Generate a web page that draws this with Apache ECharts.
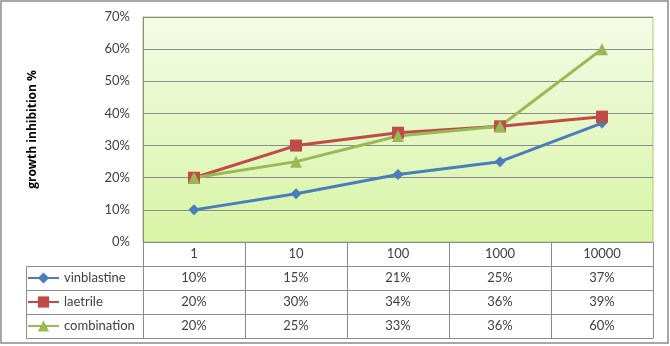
<!DOCTYPE html>
<html><head><meta charset="utf-8">
<script src="https://cdn.jsdelivr.net/npm/echarts@6/dist/echarts.min.js"></script>
<style>html,body{margin:0;padding:0;background:#fff}#c{width:670px;height:346px}</style>
</head><body><div id="c"></div>
<script>
const categories = ['1', '10', '100', '1000', '10000'];
const vinblastine = [0.10, 0.15, 0.21, 0.25, 0.37];
const laetrile = [0.20, 0.30, 0.34, 0.36, 0.39];
const combination = [0.20, 0.25, 0.33, 0.36, 0.60];
const seriesNames = ['vinblastine', 'laetrile', 'combination'];
const yTicks = [0, 0.1, 0.2, 0.3, 0.4, 0.5, 0.6, 0.7];

const pct = v => Math.round(v * 100) + '%';
const font = 'Lato, "Open Sans", sans-serif';
const txt = '#404040';
const lineGray = '#8c8c8c';
const colors = ['#4a7ebb', '#be4b48', '#98b954'];
const symbols = ['diamond', 'rect', 'triangle'];
const allData = [vinblastine, laetrile, combination];

const gridLeft = 143, gridRight = 17, gridTop = 17, gridBottom = 104, rowH = 24;

const tableAxis = (data, idx) => ({
  type: 'category', gridIndex: 0, position: 'bottom', offset: rowH * idx,
  data: data, boundaryGap: true,
  axisLine: { show: true, lineStyle: { color: lineGray, width: 1 } },
  axisTick: { show: true, interval: 0, length: rowH, inside: false, lineStyle: { color: lineGray } },
  axisLabel: { show: true, interval: 0, margin: 5, fontSize: 13, fontFamily: font, color: txt },
  splitLine: { show: false }
});

const xAxes = [tableAxis(categories, 0)];
allData.forEach((d, i) => xAxes.push(tableAxis(d.map(pct), i + 1)));
xAxes.push({
  type: 'category', position: 'bottom', offset: rowH * 4, data: categories,
  axisLine: { show: true, lineStyle: { color: lineGray } },
  axisTick: { show: false }, axisLabel: { show: false }
});

const chart = echarts.init(document.getElementById('c'), null, { renderer: 'canvas' });
chart.setOption({
  animation: false,
  backgroundColor: '#fff',
  grid: {
    left: gridLeft, right: gridRight, top: gridTop, bottom: gridBottom,
    show: true, borderColor: '#a9c96c', borderWidth: 1,
    backgroundColor: {
      type: 'linear', x: 0, y: 0, x2: 0, y2: 1,
      colorStops: [{ offset: 0, color: '#f4fbe6' }, { offset: 1, color: '#d7f4a4' }]
    }
  },
  legend: {
    orient: 'vertical', left: 27, top: 271, itemGap: 10, padding: 0,
    itemWidth: 31, itemHeight: 14,
    textStyle: { fontSize: 13, fontFamily: font, color: txt, lineHeight: 14 },
    data: seriesNames
  },
  xAxis: xAxes,
  yAxis: {
    type: 'value', min: yTicks[0], max: yTicks[yTicks.length - 1], interval: 0.1,
    name: 'growth inhibition %', nameLocation: 'middle', nameGap: 104,
    nameTextStyle: { fontSize: 12, fontWeight: 'bold', fontFamily: '"Open Sans", sans-serif', color: '#000' },
    axisLine: { show: true, lineStyle: { color: lineGray } },
    axisTick: { show: false },
    axisLabel: { formatter: v => pct(v), fontSize: 13, fontFamily: font, color: txt, margin: 13 },
    splitLine: { show: true, lineStyle: { color: lineGray, width: 1 } }
  },
  series: allData.map((d, i) => ({
    name: seriesNames[i], type: 'line', data: d, xAxisIndex: 0,
    symbol: symbols[i], symbolSize: i === 0 ? 11 : 12,
    lineStyle: { color: colors[i], width: 3 },
    itemStyle: { color: colors[i] }
  })),
  graphic: [
    { type: 'rect', shape: { x: 1, y: 1, width: 667, height: 342 }, style: { fill: null, stroke: '#8a8a8a', lineWidth: 1.5 }, silent: true },
    { type: 'rect', shape: { x: 26.5, y: 266.5, width: 117, height: 24 }, style: { fill: null, stroke: lineGray, lineWidth: 1 } },
    { type: 'rect', shape: { x: 26.5, y: 290.5, width: 117, height: 24 }, style: { fill: null, stroke: lineGray, lineWidth: 1 } },
    { type: 'rect', shape: { x: 26.5, y: 314.5, width: 117, height: 24 }, style: { fill: null, stroke: lineGray, lineWidth: 1 } }
  ]
});
</script>
</body></html>
